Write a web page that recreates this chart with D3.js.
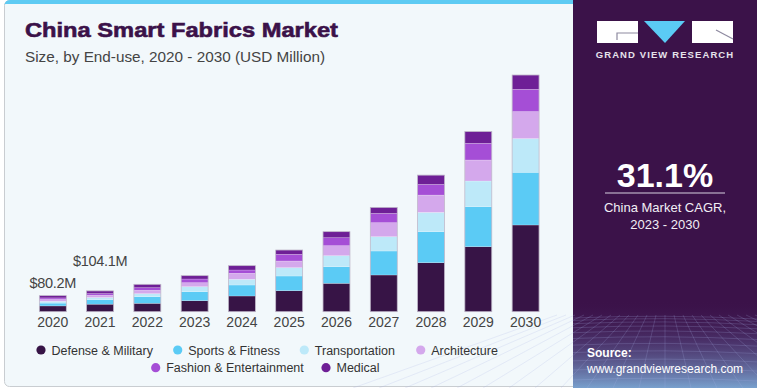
<!DOCTYPE html>
<html><head><meta charset="utf-8">
<script src="https://cdn.jsdelivr.net/npm/d3@7"></script>
<style>html,body{margin:0;padding:0;background:#fff;}svg{display:block;}</style>
</head><body>
<svg id="chart" width="757" height="388"></svg>
<script>
// ---- data (USD Million) ----
const years = ["2020","2021","2022","2023","2024","2025","2026","2027","2028","2029","2030"];
const segments = ["Defense & Military","Sports & Fitness","Transportation","Architecture","Fashion & Entertainment","Medical"];
const defense        = [29, 37.5, 42, 55, 78.5, 105, 142, 183.5, 245, 325, 433.5];
const sports         = [14, 22.5, 33, 45, 55, 73.5, 83, 120, 155, 200, 263.5];
const transportation = [9, 11, 15, 25, 28.5, 41.5, 55, 71.5, 96.5, 128.5, 168.5];
const architecture   = [9, 11.5, 17, 20, 30, 33.5, 50, 70, 86.5, 105, 135];
const fashion        = [8, 8, 13, 18.5, 16.5, 33.5, 40, 46.5, 53.5, 83.5, 111.5];
const medical        = [11.2, 13.6, 17, 16.5, 21.5, 21.5, 30, 30, 46.5, 58.5, 71.5];
const colors = ["#371446","#5bcbf5","#bde9f9","#d4a8ec","#a54ed6","#6e1f96"];
const valueLabels = [{year:"2020", text:"$80.2M"},{year:"2021", text:"$104.1M"}];
const cagr = "31.1%";

const seriesArrays = [defense, sports, transportation, architecture, fashion, medical];
const rows = years.map((y,i)=>{ const r={year:y}; segments.forEach((s,j)=>r[s]=seriesArrays[j][i]); return r; });

const svg = d3.select("#chart");
const font = "'Liberation Sans', Arial, sans-serif";

// ---- backgrounds ----
const defs = svg.append("defs");
const g1 = defs.append("linearGradient").attr("id","bottomGrad").attr("x1",0).attr("y1",0).attr("x2",0).attr("y2",1);
g1.append("stop").attr("offset","0%").attr("stop-color","#3b1249").attr("stop-opacity",0);
g1.append("stop").attr("offset","45%").attr("stop-color","#54467f").attr("stop-opacity",0.55);
g1.append("stop").attr("offset","100%").attr("stop-color","#7fb0dc").attr("stop-opacity",0.9);

svg.append("rect").attr("x",4.5).attr("y",0.5).attr("width",590).attr("height",386).attr("rx",5)
  .attr("fill","#f2f8fb").attr("stroke","#c9cdd1").attr("stroke-width",1);
svg.append("path").attr("d","M4.5,6 Q4.5,0 10,0 L575,0 L575,4 L4.5,4 Z").attr("fill","#5ecbf3");

// right panel
svg.append("rect").attr("x",573).attr("y",0).attr("width",184).attr("height",388).attr("fill","#3b1249");
svg.append("rect").attr("x",573).attr("y",300).attr("width",184).attr("height",88).attr("fill","url(#bottomGrad)");
// decorative perspective grid
const gridG = svg.append("g").attr("stroke","#a9b4e6").attr("stroke-opacity",0.3).attr("stroke-width",0.7).attr("fill","none");
for (let k=0;k<14;k++){ const yy = 318 + k*k*0.42 + k*2; gridG.append("path").attr("d",`M573,${yy} Q665,${yy-4} 757,${yy+1}`); }
for (let k=-12;k<=12;k++){ gridG.append("line").attr("x1",665+k*9).attr("y1",315).attr("x2",665+k*26).attr("y2",388); }

// logo
const logo = svg.append("g");
logo.append("rect").attr("x",597).attr("y",21).attr("width",41).attr("height",22).attr("fill","#fff");
logo.append("path").attr("d","M617,40 L617,33 L638,33").attr("stroke","#8e8aa0").attr("stroke-width",1.2).attr("fill","none");
logo.append("path").attr("d","M644,21 L685,21 L665,43 Z").attr("fill","#5bcbf5");
logo.append("rect").attr("x",692).attr("y",21).attr("width",41).attr("height",22).attr("fill","#fff");
logo.append("path").attr("d","M716,30 L733,39").attr("stroke","#8e8aa0").attr("stroke-width",1.2);
logo.append("text").attr("x",665).attr("y",58).attr("text-anchor","middle").attr("fill","#e6e2ec")
  .style("font-family",font).style("font-weight","bold").style("font-size","9.5px").style("letter-spacing","1.1px")
  .text("GRAND VIEW RESEARCH");

// CAGR
svg.append("text").attr("x",665).attr("y",187).attr("text-anchor","middle").attr("fill","#fff")
  .style("font-family",font).style("font-weight","bold").style("font-size","34px").text(cagr);
svg.append("line").attr("x1",605).attr("x2",725).attr("y1",193).attr("y2",193).attr("stroke","#d8d0e0").attr("stroke-width",1.2);
svg.append("text").attr("x",665).attr("y",212).attr("text-anchor","middle").attr("fill","#f2eef5")
  .style("font-family",font).style("font-size","13px").text("China Market CAGR,");
svg.append("text").attr("x",665).attr("y",229).attr("text-anchor","middle").attr("fill","#f2eef5")
  .style("font-family",font).style("font-size","13px").text("2023 - 2030");
svg.append("text").attr("x",587).attr("y",357).attr("fill","#fff")
  .style("font-family",font).style("font-weight","bold").style("font-size","12px").text("Source:");
svg.append("text").attr("x",587).attr("y",373).attr("fill","#fff")
  .style("font-family",font).style("font-size","12px").text("www.grandviewresearch.com");

// title
svg.append("text").attr("x",25).attr("y",37).attr("fill","#3b1249")
  .attr("textLength",313).attr("lengthAdjust","spacingAndGlyphs")
  .style("font-family",font).style("font-weight","900").style("font-size","21px").style("stroke","#3b1249").style("stroke-width","0.6px")
  .text("China Smart Fabrics Market");
svg.append("text").attr("x",25).attr("y",62).attr("fill","#444")
  .attr("textLength",300).attr("lengthAdjust","spacingAndGlyphs")
  .style("font-family",font).style("font-size","15px").text("Size, by End-use, 2020 - 2030 (USD Million)");

// ---- scales ----
const x = d3.scaleBand().domain(years).range([29.4, 549]).paddingInner(0.43).paddingOuter(0.21);
const y = d3.scaleLinear().domain([0,1200]).range([311.7, 71.7]);

const stack = d3.stack().keys(segments);
const stacked = stack(rows);

svg.append("g").selectAll("g").data(stacked).join("g")
  .attr("fill",(d,i)=>colors[i])
  .selectAll("rect").data(d=>d).join("rect")
  .attr("x",d=>x(d.data.year)).attr("width",x.bandwidth())
  .attr("y",d=>y(d[1])).attr("height",d=>y(d[0])-y(d[1]))
  .attr("stroke","#ffffff").attr("stroke-opacity",0.35).attr("stroke-width",0.6);
// bar outline
svg.append("g").selectAll("rect").data(rows).join("rect")
  .attr("x",d=>x(d.year)).attr("width",x.bandwidth())
  .attr("y",d=>y(d3.sum(segments,s=>d[s]))).attr("height",d=>y(0)-y(d3.sum(segments,s=>d[s])))
  .attr("fill","none").attr("stroke","#b9b0c4").attr("stroke-width",0.7);

// x axis
const xAxis = svg.append("g").attr("transform",`translate(0,${y(0)})`).call(d3.axisBottom(x).tickSize(0).tickPadding(15));
xAxis.select(".domain").remove();
xAxis.selectAll("text").attr("fill","#444").style("font-family",font).style("font-size","14px").attr("dy","0");

// value labels
const labelOffset = {"2020":8, "2021":25};
svg.append("g").selectAll("text").data(valueLabels).join("text")
  .attr("x",d=>x(d.year)+x.bandwidth()/2)
  .attr("y",d=>{ const r=rows.find(r=>r.year===d.year); return y(d3.sum(segments,s=>r[s])) - labelOffset[d.year]; })
  .attr("text-anchor","middle").attr("fill","#444")
  .style("font-family",font).style("font-size","14.5px").style("letter-spacing","-0.3px").text(d=>d.text);

// legend
const legendPos = [[41,350],[177.7,350],[304.3,350],[420.7,350],[155.7,367.7],[326,367.7]];
const lg = svg.append("g").selectAll("g").data(segments).join("g")
  .attr("transform",(d,i)=>`translate(${legendPos[i][0]},${legendPos[i][1]})`);
lg.append("circle").attr("r",4.6).attr("fill",(d,i)=>colors[i]);
lg.append("text").attr("x",10.5).attr("y",4.5).attr("fill","#333")
  .style("font-family",font).style("font-size","12.5px").text(d=>d);
</script>
</body></html>
